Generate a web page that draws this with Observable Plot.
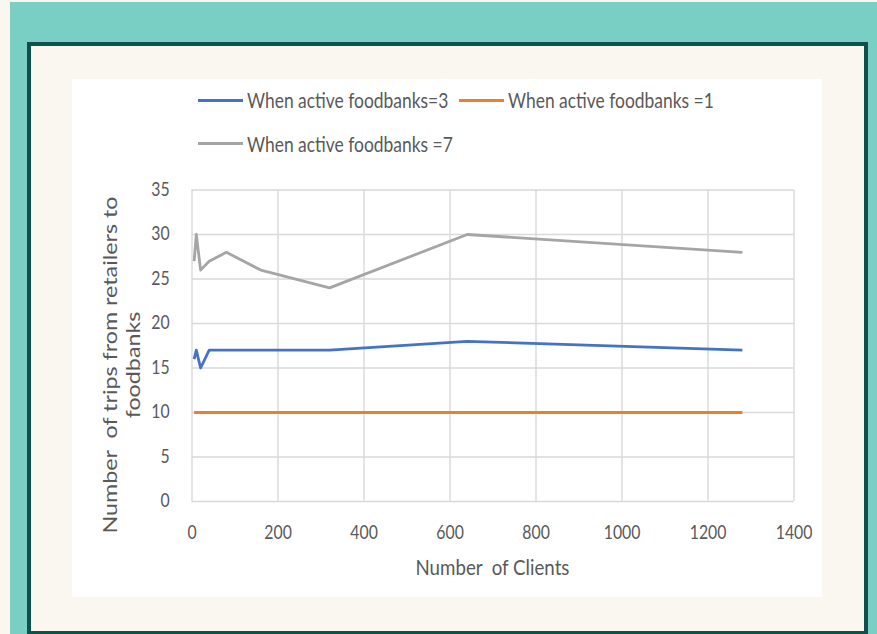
<!DOCTYPE html>
<html>
<head>
<meta charset="utf-8">
<script src="https://cdn.jsdelivr.net/npm/d3@7"></script>
<script src="https://cdn.jsdelivr.net/npm/@observablehq/plot@0.6"></script>
<style>
  html, body { margin: 0; padding: 0; }
  body { width: 877px; height: 634px; overflow: hidden; position: relative; background: #faf7f0; font-family: Lato, "Open Sans", sans-serif; color: #595959; }
  #teal { position: absolute; left: 10px; top: 2px; width: 867px; height: 632px; background: #7acfc5; }
  #frame { position: absolute; left: 27px; top: 42px; width: 841px; height: 593px; box-sizing: border-box; border: 4px solid #124f4c; background: #faf7f0; }
  #panel { position: absolute; left: 72px; top: 79px; width: 750px; height: 518px; background: #ffffff; }
  #chart { position: absolute; left: 72px; top: 170px; }
  .leg { position: absolute; height: 0; }
  .leg .sw { position: absolute; left: 0; top: -1.5px; width: 45px; height: 3px; }
  .leg .lb { position: absolute; left: 49px; top: -13px; font-size: 21px; line-height: 26px; white-space: pre; transform: scaleX(0.83); transform-origin: left center; }
</style>
</head>
<body>
<div id="teal"></div>
<div id="frame"></div>
<div id="panel"></div>
<div id="legend"></div>
<div id="chart"></div>
<script>
// Number of clients served in each simulation run
const clients = [5, 10, 20, 40, 80, 160, 320, 640, 1280];

// Trips from retailers to foodbanks, one array per number of active foodbanks
const tripsActive3 = [16, 17, 15, 17, 17, 17, 17, 18, 17];
const tripsActive1 = [10, 10, 10, 10, 10, 10, 10, 10, 10];
const tripsActive7 = [27, 30, 26, 27, 28, 26, 24, 30, 28];

const seriesNames = ["When active foodbanks=3", "When active foodbanks =1", "When active foodbanks =7"];
const seriesColors = ["#4472c4", "#ed7d31", "#a5a5a5"];

const xTicks = [0, 200, 400, 600, 800, 1000, 1200, 1400];
const yTicks = [0, 5, 10, 15, 20, 25, 30, 35];

const xTitle = "Number  of Clients";
const yTitleLines = ["Number  of trips from retailers to", "foodbanks"];

const seriesValues = [tripsActive3, tripsActive1, tripsActive7];
const rows = seriesNames.flatMap((name, i) =>
  clients.map((c, j) => ({ series: name, clients: c, trips: seriesValues[i][j] }))
);

const squeeze = 0.85;

const chart = Plot.plot({
  width: 750,
  height: 427,
  marginLeft: 119.5,
  marginRight: 28.5,
  marginTop: 19.5,
  marginBottom: 96,
  style: { fontFamily: "Lato, 'Open Sans', sans-serif", fontSize: "18.6px", color: "#595959", background: "transparent", overflow: "visible" },
  x: { domain: [0, 1400], label: null },
  y: { domain: [0, 35], label: null },
  color: { domain: seriesNames, range: seriesColors },
  marks: [
    Plot.gridX(xTicks, { stroke: "#d9d9d9", strokeOpacity: 1, strokeWidth: 1.4 }),
    Plot.gridY(yTicks, { stroke: "#d9d9d9", strokeOpacity: 1, strokeWidth: 1.4 }),
    Plot.axisX(xTicks, { tickSize: 0, tickPadding: 24, label: null, fill: "#595959", tickFormat: d => String(d) }),
    Plot.axisY(yTicks, { tickSize: 0, tickPadding: 19.5, label: null, fill: "#595959", tickFormat: d => String(d) }),
    Plot.line(rows, { x: "clients", y: "trips", z: "series", stroke: "series", strokeWidth: 2.8, strokeLinejoin: "round", strokeLinecap: "butt" })
  ]
});

document.getElementById("chart").appendChild(chart);

const svg = d3.select(chart);
const xs = chart.scale("x");
const x0 = xs.apply(0), x1 = xs.apply(1400);

// Axis titles
svg.append("text")
  .attr("class", "x-title")
  .attr("x", (x0 + x1) / 2)
  .attr("y", 405)
  .attr("text-anchor", "middle")
  .attr("fill", "#595959")
  .style("font-size", "22px")
  .style("white-space", "pre")
  .text(xTitle);

const yMid = 195;
const yTitleBaselines = [44.5, 68];
yTitleLines.forEach((line, i) => {
  svg.append("g")
    .attr("class", "y-title")
    .attr("transform", `translate(${yTitleBaselines[i]},${yMid}) scale(0.8,1)`)
    .append("text")
    .attr("transform", "rotate(-90)")
    .attr("text-anchor", "middle")
    .attr("fill", "#595959")
    .style("font-size", "23.3px")
    .style("white-space", "pre")
    .text(line);
});

// Narrow the horizontal labels so they read like a condensed face
const svgBox = chart.getBoundingClientRect();
chart.querySelectorAll("text").forEach(t => {
  if (t.closest(".y-title")) return;
  const r = t.getBoundingClientRect();
  let anchor = "middle";
  let node = t;
  while (node && node !== chart) {
    const a = node.getAttribute && node.getAttribute("text-anchor");
    if (a) { anchor = a; break; }
    node = node.parentNode;
  }
  const ox = anchor === "end" ? r.right - svgBox.left : anchor === "start" ? r.left - svgBox.left : (r.left + r.right) / 2 - svgBox.left;
  const g = document.createElementNS("http://www.w3.org/2000/svg", "g");
  g.setAttribute("transform", `translate(${ox},0) scale(${squeeze},1) translate(${-ox},0)`);
  t.parentNode.insertBefore(g, t);
  g.appendChild(t);
});

// Legend above the plot
const legendSpots = [[198, 100], [459, 100], [198, 143.5]];
const legend = d3.select("#legend");
seriesNames.forEach((name, i) => {
  const item = legend.append("div").attr("class", "leg")
    .style("left", legendSpots[i][0] + "px")
    .style("top", legendSpots[i][1] + "px");
  item.append("div").attr("class", "sw").style("background", seriesColors[i]);
  item.append("div").attr("class", "lb").text(name);
});
</script>
</body>
</html>
